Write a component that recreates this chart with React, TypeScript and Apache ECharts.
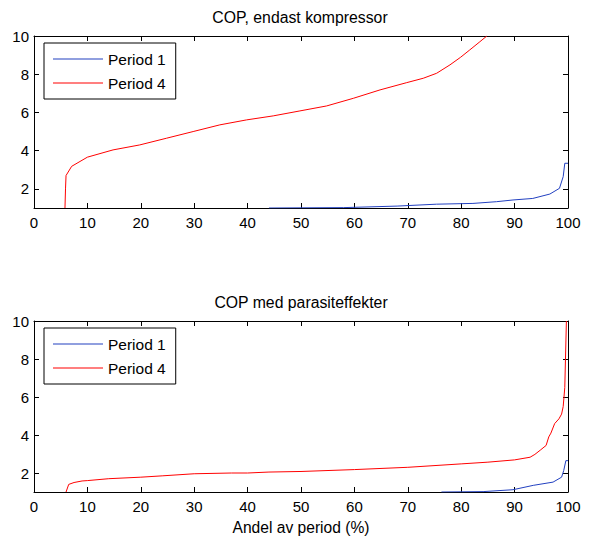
import React, { useEffect, useRef } from "react";
import * as echarts from "echarts";

// Top plot: COP, endast kompressor
const topP1X = [44, 58, 68, 75.4, 82.2, 86.6, 89.7, 93.4, 96.6, 98.4, 99.1, 99.4, 100];
const topP1Y = [1.0, 1.02, 1.1, 1.2, 1.24, 1.33, 1.42, 1.5, 1.73, 2.03, 2.64, 3.34, 3.34];
const topP4X = [5.8, 5.9, 6.0, 7.05, 10, 14.8, 19.8, 24.8, 29.8, 34.8, 39.8, 44.8, 49.8, 54.8, 59.8, 64.8, 69.8, 72.9, 75.4, 77.9, 79.9, 81.6, 83.5, 84.8];
const topP4Y = [1.0, 2.0, 2.7, 3.18, 3.66, 4.04, 4.3, 4.65, 5.0, 5.35, 5.61, 5.82, 6.08, 6.34, 6.74, 7.18, 7.56, 7.79, 8.05, 8.49, 8.89, 9.27, 9.7, 10.0];

// Bottom plot: COP med parasiteffekter
const botP1X = [76.3, 84.1, 89.7, 93.5, 97.2, 98.8, 99.2, 99.6, 100];
const botP1Y = [1.0, 1.02, 1.12, 1.35, 1.52, 1.78, 2.13, 2.65, 2.65];
const botP4X = [6.0, 6.5, 7.5, 9, 10, 14, 20, 24, 30, 37, 40, 44, 50, 60, 70, 80, 85, 90, 92.9, 93.8, 94.8, 95.9, 96.4, 96.8, 97.5, 98.3, 98.8, 99.1, 99.4, 99.7];
const botP4Y = [1.0, 1.4, 1.5, 1.58, 1.6, 1.7, 1.78, 1.85, 1.96, 2.0, 2.0, 2.05, 2.08, 2.18, 2.3, 2.48, 2.57, 2.69, 2.83, 2.98, 3.2, 3.45, 3.9, 4.1, 4.6, 4.85, 5.1, 5.5, 6.5, 10.0];

const seriesNames = ["Period 1", "Period 4"];
const titles = ["COP, endast kompressor", "COP med parasiteffekter"];
const xLabel = "Andel av period (%)";

const FONT = "'Liberation Sans', Arial, Helvetica, sans-serif";
const RED = "#ff0000";
const BLUE = "#2240c0";
const colors = [BLUE, RED];

const pairs = (xs: number[], ys: number[]) => xs.map((x, i) => [x, ys[i]]);

export default function App() {
  const ref = useRef<HTMLDivElement>(null);
  useEffect(() => {
    document.body.style.margin = "0";
    if (!ref.current) return;
    const chart = echarts.init(ref.current, null, { renderer: "svg" });
    const grids = [
      { left: 34, top: 36, width: 534, height: 172 },
      { left: 34, top: 321, width: 534, height: 172 },
    ];
    const axisLine = { show: true, onZero: false, lineStyle: { color: "#000", width: 1 } };
    const tick = { show: true, inside: true, length: 5, lineStyle: { color: "#000" } };
    const label = { color: "#000", fontFamily: FONT, fontSize: 15 };
    const xAxes: any[] = [];
    const yAxes: any[] = [];
    [0, 1].forEach((g) => {
      xAxes.push({
        type: "value", gridIndex: g, position: "bottom", min: 0, max: 100, interval: 10,
        axisLine, axisTick: tick, splitLine: { show: false },
        axisLabel: { ...label, margin: 7 },
        name: g === 1 ? xLabel : "", nameLocation: "middle", nameGap: 27,
        nameTextStyle: { color: "#000", fontFamily: FONT, fontSize: 15.6 },
      });
      xAxes.push({
        type: "value", gridIndex: g, position: "top", min: 0, max: 100, interval: 10,
        axisLine, axisTick: tick, splitLine: { show: false }, axisLabel: { show: false },
      });
      yAxes.push({
        type: "value", gridIndex: g, position: "left", min: 1, max: 10,
        axisLine, axisTick: tick, splitLine: { show: false },
        axisLabel: { ...label, margin: 5, showMinLabel: false },
      });
      yAxes.push({
        type: "value", gridIndex: g, position: "right", min: 1, max: 10,
        axisLine, axisTick: tick, splitLine: { show: false }, axisLabel: { show: false },
      });
    });
    const mk = (name: string, data: number[][], g: number, color: string) => ({
      type: "line", name, data, xAxisIndex: g * 2, yAxisIndex: g * 2,
      showSymbol: false, symbol: "none", clip: true,
      lineStyle: { color, width: 1 }, itemStyle: { color },
    });
    const legend = (g: number) => ({
      orient: "vertical", left: 44, top: g === 0 ? 43 : 328,
      data: seriesNames.map((n, i) => ({ name: n, itemStyle: { color: colors[i] }, lineStyle: { color: colors[i] } })),
      icon: "rect", itemWidth: 50, itemHeight: 1,
      itemGap: 8, padding: [8, 10, 8, 9],
      borderColor: "#000", borderWidth: 1, backgroundColor: "#fff",
      textStyle: { color: "#000", fontFamily: FONT, fontSize: 15.5, lineHeight: 15 },
    });
    chart.setOption({
      animation: false,
      backgroundColor: "#fff",
      grid: grids,
      xAxis: xAxes,
      yAxis: yAxes,
      legend: [legend(0), legend(1)],
      graphic: [
        { type: "text", x: 300, y: 17.5, style: { text: titles[0], fill: "#000", font: `15.8px ${FONT}`, align: "center", verticalAlign: "middle" } },
        { type: "text", x: 301, y: 302.5, style: { text: titles[1], fill: "#000", font: `15.8px ${FONT}`, align: "center", verticalAlign: "middle" } },
      ],
      series: [
        mk(seriesNames[0], pairs(topP1X, topP1Y), 0, BLUE),
        mk(seriesNames[1], pairs(topP4X, topP4Y), 0, RED),
        mk(seriesNames[0], pairs(botP1X, botP1Y), 1, BLUE),
        mk(seriesNames[1], pairs(botP4X, botP4Y), 1, RED),
      ],
    });
    return () => chart.dispose();
  }, []);
  return <div ref={ref} style={{ width: 591, height: 536 }} />;
}
